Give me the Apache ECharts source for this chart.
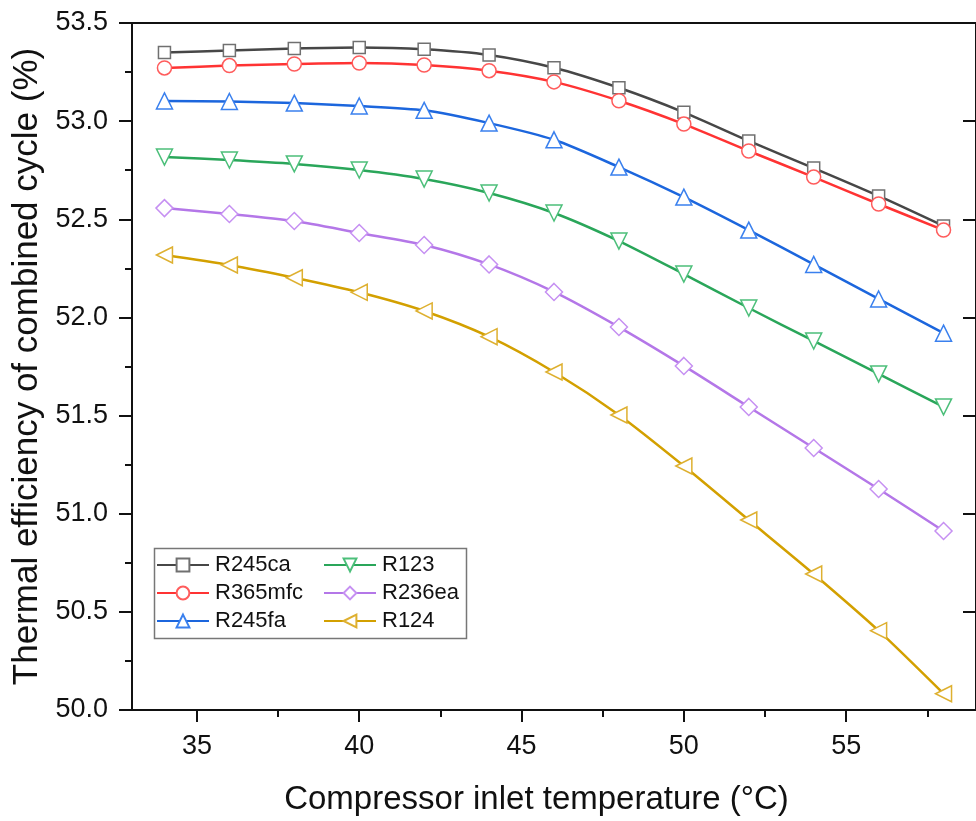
<!DOCTYPE html>
<html>
<head>
<meta charset="utf-8">
<script src="https://cdn.jsdelivr.net/npm/echarts@6/dist/echarts.min.js"></script>
<style>
  html, body { margin: 0; padding: 0; background: #fff; }
  #chart { width: 976px; height: 821px; }
</style>
</head>
<body>
<div id="chart"></div>
<script>
// compressor inlet temperature (°C)
const temps = [34, 36, 38, 40, 42, 44, 46, 48, 50, 52, 54, 56, 58];

// thermal efficiency of combined cycle (%)
const r245ca  = [53.35, 53.36, 53.37, 53.375, 53.366, 53.337, 53.272, 53.170, 53.045, 52.899, 52.761, 52.619, 52.466];
const r365mfc = [53.271, 53.283, 53.291, 53.296, 53.286, 53.257, 53.200, 53.104, 52.985, 52.848, 52.715, 52.578, 52.445];
const r245fa  = [53.103, 53.100, 53.092, 53.077, 53.055, 52.990, 52.905, 52.766, 52.613, 52.445, 52.270, 52.094, 51.920];
const r123    = [52.817, 52.802, 52.782, 52.751, 52.705, 52.634, 52.532, 52.389, 52.221, 52.048, 51.880, 51.712, 51.544];
const r236ea  = [52.557, 52.527, 52.491, 52.430, 52.369, 52.270, 52.130, 51.951, 51.753, 51.544, 51.335, 51.126, 50.912];
const r124    = [52.318, 52.267, 52.202, 52.128, 52.033, 51.902, 51.722, 51.503, 51.243, 50.968, 50.693, 50.404, 50.083];

const xMajor = [35, 40, 45, 50, 55];
const xMinor = [37.5, 42.5, 47.5, 52.5, 57.5];

const FONT = '"Liberation Sans", Arial, sans-serif';

const defs = [
  {name: 'R245ca',  data: r245ca,  line: '#474747', mark: '#707070', symbol: 'rect',     size: 12, rot: 0},
  {name: 'R365mfc', data: r365mfc, line: '#ff3333', mark: '#ff5c5c', symbol: 'circle',   size: 14, rot: 0},
  {name: 'R245fa',  data: r245fa,  line: '#1c66dd', mark: '#3a80ee', symbol: 'triangle', size: 16, rot: 0},
  {name: 'R123',    data: r123,    line: '#2aa65a', mark: '#4cbf7a', symbol: 'triangle', size: 16, rot: 180},
  {name: 'R236ea',  data: r236ea,  line: '#b477e8', mark: '#c690f2', symbol: 'diamond',  size: 17, rot: 0},
  {name: 'R124',    data: r124,    line: '#d3a000', mark: '#deb030', symbol: 'triangle', size: 16, rot: 90}
];

const series = defs.map(d => ({
  name: d.name,
  type: 'line',
  xAxisIndex: 0,
  yAxisIndex: 0,
  data: temps.map((t, i) => [t, d.data[i]]),
  smooth: 0.25,
  symbol: d.symbol,
  symbolSize: d.size,
  symbolRotate: d.rot,
  lineStyle: {color: d.line, width: 2.5},
  itemStyle: {color: '#fff', borderColor: d.mark, borderWidth: 1.5},
  emphasis: {disabled: true},
  animation: false
}));

const legendBase = {
  orient: 'vertical',
  itemWidth: 52,
  itemHeight: 16,
  itemGap: 6,
  padding: 0,
  textStyle: {fontFamily: FONT, fontSize: 22, color: '#111', padding: [0, 0, 0, 1]},
  selectedMode: false
};

const chart = echarts.init(document.getElementById('chart'), null, {renderer: 'canvas'});
chart.setOption({
  backgroundColor: '#fff',
  animation: false,
  grid: {left: 132, top: 23, right: -8, bottom: 111, containLabel: false},
  legend: [
    Object.assign({}, legendBase, {left: 156, top: 554, data: ['R245ca', 'R365mfc', 'R245fa']}),
    Object.assign({}, legendBase, {left: 323, top: 554, data: ['R123', 'R236ea', 'R124']})
  ],
  graphic: [{
    type: 'rect',
    left: 152, top: 546,
    shape: {width: 312, height: 90},
    style: {fill: 'none', stroke: '#777', lineWidth: 1.5},
    silent: true
  }],
  xAxis: [
    {
      type: 'value', position: 'bottom', min: 33, max: 59,
      name: 'Compressor inlet temperature (°C)',
      nameLocation: 'middle', nameGap: 73,
      nameTextStyle: {fontFamily: FONT, fontSize: 33, color: '#111', padding: [0, 35, 0, 0]},
      axisLine: {show: true, onZero: false, lineStyle: {color: '#111', width: 2}},
      axisTick: {show: true, length: 12, lineStyle: {color: '#111', width: 2}, customValues: xMajor},
      axisLabel: {fontFamily: FONT, fontSize: 27, color: '#111', margin: 23, customValues: xMajor},
      splitLine: {show: false}
    },
    {
      type: 'value', position: 'bottom', min: 33, max: 59,
      axisLine: {show: false, onZero: false},
      axisTick: {show: true, length: 7, lineStyle: {color: '#111', width: 2}, customValues: xMinor},
      axisLabel: {show: false},
      splitLine: {show: false}
    },
    {
      type: 'value', position: 'top', min: 33, max: 59,
      axisLine: {show: true, onZero: false, lineStyle: {color: '#111', width: 2}},
      axisTick: {show: false},
      axisLabel: {show: false},
      splitLine: {show: false}
    }
  ],
  yAxis: [
    {
      type: 'value', position: 'left', min: 50, max: 53.5, interval: 0.5,
      name: 'Thermal efficiency of combined cycle (%)',
      nameLocation: 'middle', nameGap: 85,
      nameTextStyle: {fontFamily: FONT, fontSize: 35, color: '#111'},
      axisLine: {show: true, onZero: false, lineStyle: {color: '#111', width: 2}},
      axisTick: {show: true, length: 13, lineStyle: {color: '#111', width: 2}},
      minorTick: {show: true, splitNumber: 2, length: 7, lineStyle: {color: '#111', width: 2}},
      axisLabel: {fontFamily: FONT, fontSize: 27, color: '#111', margin: 24,
        formatter: v => v.toFixed(1)},
      splitLine: {show: false}
    },
    {
      type: 'value', position: 'right', min: 50, max: 53.5, interval: 0.5,
      axisLine: {show: true, onZero: false, lineStyle: {color: '#111', width: 2}},
      axisTick: {show: true, inside: true, length: 13, lineStyle: {color: '#111', width: 2}},
      axisLabel: {show: false},
      splitLine: {show: false}
    }
  ],
  series: series
});
</script>
</body>
</html>
